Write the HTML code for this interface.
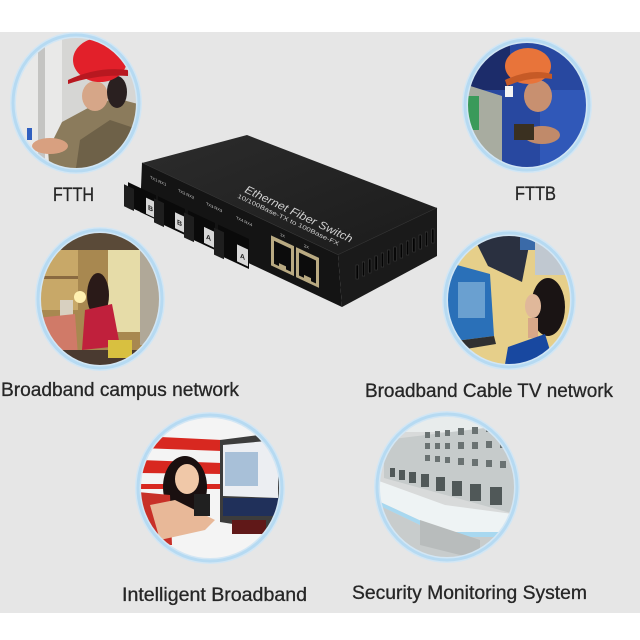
<!DOCTYPE html>
<html><head><meta charset="utf-8"><style>
html,body{margin:0;padding:0;background:#fff;}
svg{display:block;}
</style></head><body>
<svg width="640" height="640" viewBox="0 0 640 640" xmlns="http://www.w3.org/2000/svg">
<defs>
<clipPath id="c1"><ellipse cx="76" cy="103" rx="62" ry="67"/></clipPath>
<clipPath id="c2"><ellipse cx="527" cy="105" rx="61" ry="64"/></clipPath>
<clipPath id="c3"><ellipse cx="100" cy="299" rx="61" ry="68"/></clipPath>
<clipPath id="c4"><ellipse cx="509" cy="300" rx="63" ry="66"/></clipPath>
<clipPath id="c5"><ellipse cx="210" cy="488" rx="71" ry="72"/></clipPath>
<clipPath id="c6"><ellipse cx="447" cy="487" rx="69" ry="72"/></clipPath>
<linearGradient id="topf" x1="0" y1="0" x2="1" y2="1">
<stop offset="0" stop-color="#2c2c2c"/><stop offset="1" stop-color="#1b1b1b"/></linearGradient>
</defs>
<rect width="640" height="640" fill="#fff"/>
<rect x="0" y="32" width="640" height="581" fill="#e6e6e6"/>

<!-- FTTH -->
<g clip-path="url(#c1)">
<rect x="10" y="30" width="140" height="145" fill="#d6d6d4"/>
<rect x="10" y="30" width="52" height="145" fill="#e9e9e8"/>
<rect x="38" y="40" width="7" height="120" fill="#c4c4c2"/>
<rect x="27" y="128" width="5" height="12" fill="#3060c0"/>
<polygon points="48,150 62,122 88,108 115,98 138,104 142,175 50,175" fill="#8b7b5c"/>
<polygon points="80,140 110,120 140,130 142,175 75,175" fill="#6e6148"/>
<ellipse cx="95" cy="96" rx="13" ry="15" fill="#d6a688"/>
<ellipse cx="117" cy="92" rx="10" ry="16" fill="#2a2020"/>
<ellipse cx="100" cy="60" rx="27" ry="22" fill="#e2202a"/>
<path d="M68 80 Q98 66 128 70 L128 76 Q98 74 68 84Z" fill="#b81820"/>
<ellipse cx="50" cy="146" rx="18" ry="8" fill="#d8a080"/>
</g>
<ellipse cx="76" cy="103" rx="63" ry="68" fill="none" stroke="#d2e6f4" stroke-width="6"/>
<ellipse cx="76" cy="103" rx="63" ry="68" fill="none" stroke="#b6daf2" stroke-width="3"/>

<!-- FTTB -->
<g clip-path="url(#c2)">
<rect x="460" y="35" width="135" height="140" fill="#2848a0"/>
<rect x="460" y="35" width="50" height="55" fill="#1c2c6a"/>
<rect x="540" y="90" width="55" height="80" fill="#3058b8"/>
<polygon points="464,84 502,96 502,170 464,170" fill="#a8aca0"/>
<rect x="468" y="96" width="11" height="34" fill="#3a9a5a"/>
<ellipse cx="538" cy="96" rx="14" ry="16" fill="#c89070"/>
<ellipse cx="528" cy="66" rx="23" ry="18" fill="#e8743a"/>
<path d="M505 80 Q530 68 552 74 L552 79 Q530 76 507 86Z" fill="#c65a26"/>
<rect x="505" y="86" width="8" height="11" fill="#f4f4f4"/>
<ellipse cx="542" cy="135" rx="18" ry="9" fill="#c08a6a"/>
<rect x="514" y="124" width="20" height="16" fill="#3a3020"/>
</g>
<ellipse cx="527" cy="105" rx="62" ry="65" fill="none" stroke="#d2e6f4" stroke-width="6"/>
<ellipse cx="527" cy="105" rx="62" ry="65" fill="none" stroke="#b6daf2" stroke-width="3"/>

<!-- Campus -->
<g clip-path="url(#c3)">
<rect x="35" y="228" width="132" height="145" fill="#a88850"/>
<rect x="35" y="228" width="132" height="22" fill="#5a4a38"/>
<rect x="38" y="250" width="40" height="60" fill="#c8a868"/>
<rect x="38" y="276" width="40" height="3" fill="#8a6a40"/>
<rect x="108" y="250" width="32" height="82" fill="#e6dca8"/>
<rect x="140" y="250" width="25" height="95" fill="#b0a898"/>
<rect x="60" y="300" width="13" height="18" fill="#d8d0c0"/>
<circle cx="80" cy="297" r="6" fill="#fff0b0"/>
<ellipse cx="98" cy="295" rx="11" ry="22" fill="#2a1a18"/>
<polygon points="85,310 112,304 120,346 82,350" fill="#c0203c"/>
<polygon points="36,318 75,314 78,356 42,368" fill="#d07a68"/>
<rect x="35" y="350" width="132" height="22" fill="#4a3a30"/>
<rect x="108" y="340" width="24" height="18" fill="#d8c040"/>
</g>
<ellipse cx="100" cy="299" rx="62" ry="69" fill="none" stroke="#d2e6f4" stroke-width="6"/>
<ellipse cx="100" cy="299" rx="62" ry="69" fill="none" stroke="#b6daf2" stroke-width="3"/>

<!-- Cable TV -->
<g clip-path="url(#c4)">
<rect x="440" y="230" width="140" height="145" fill="#e6cf8a"/>
<polygon points="470,230 532,230 522,282 488,266" fill="#2a3040"/>
<rect x="520" y="230" width="55" height="20" fill="#3a6aa8"/>
<rect x="535" y="240" width="40" height="35" fill="#c0c8d0"/>
<polygon points="446,262 490,274 494,336 448,342" fill="#2a70b8"/>
<rect x="458" y="282" width="27" height="36" fill="#6aa0d0"/>
<polygon points="448,342 494,336 496,344 448,352" fill="#303030"/>
<ellipse cx="548" cy="307" rx="17" ry="29" fill="#1a1414"/>
<ellipse cx="533" cy="306" rx="8" ry="12" fill="#e0b89a"/>
<rect x="528" y="318" width="10" height="20" fill="#d8a888"/>
<polygon points="508,347 545,334 556,370 504,370" fill="#1848a0"/>
</g>
<ellipse cx="509" cy="300" rx="64" ry="67" fill="none" stroke="#d2e6f4" stroke-width="6"/>
<ellipse cx="509" cy="300" rx="64" ry="67" fill="none" stroke="#b6daf2" stroke-width="3"/>

<!-- Intelligent -->
<g clip-path="url(#c5)">
<rect x="135" y="412" width="150" height="155" fill="#f4f4f4"/>
<polygon points="140,436 222,440 222,451 140,448" fill="#d82820"/>
<polygon points="140,460 222,463 222,474 140,473" fill="#d82820"/>
<rect x="140" y="484" width="82" height="5" fill="#d82820"/>
<polygon points="220,440 282,432 284,532 220,522" fill="#3c3c3c"/>
<polygon points="223,445 278,440 278,498 223,496" fill="#eceef2"/>
<rect x="225" y="452" width="33" height="34" fill="#a8c0d8"/>
<rect x="223" y="498" width="56" height="18" fill="#20305a"/>
<rect x="232" y="520" width="34" height="14" fill="#601818"/>
<ellipse cx="185" cy="487" rx="22" ry="31" fill="#1a1010"/>
<ellipse cx="187" cy="479" rx="12" ry="15" fill="#f0c8a8"/>
<polygon points="138,492 170,495 172,545 138,545" fill="#c83028"/>
<polygon points="150,505 175,500 215,520 205,530 160,540" fill="#e8b898"/>
<rect x="194" y="494" width="16" height="22" fill="#202020"/>
</g>
<ellipse cx="210" cy="488" rx="72" ry="73" fill="none" stroke="#d2e6f4" stroke-width="6"/>
<ellipse cx="210" cy="488" rx="72" ry="73" fill="none" stroke="#b6daf2" stroke-width="3"/>

<!-- Security -->
<g clip-path="url(#c6)">
<rect x="372" y="410" width="150" height="155" fill="#d8dada"/>
<rect x="372" y="410" width="150" height="22" fill="#e8ecec"/>
<polygon points="384,440 518,424 518,515 384,478" fill="#c6cbcb"/>
<g fill="#6a7272">
<rect x="425" y="432" width="5" height="6"/><rect x="435" y="431" width="5" height="6"/><rect x="445" y="430" width="5" height="6"/><rect x="458" y="428" width="6" height="7"/><rect x="472" y="427" width="6" height="7"/><rect x="486" y="425" width="6" height="7"/><rect x="500" y="424" width="6" height="7"/>
<rect x="425" y="443" width="5" height="6"/><rect x="435" y="443" width="5" height="6"/><rect x="445" y="443" width="5" height="6"/><rect x="458" y="442" width="6" height="7"/><rect x="472" y="442" width="6" height="7"/><rect x="486" y="441" width="6" height="7"/><rect x="500" y="441" width="6" height="7"/>
<rect x="425" y="455" width="5" height="6"/><rect x="435" y="456" width="5" height="6"/><rect x="445" y="457" width="5" height="6"/><rect x="458" y="458" width="6" height="7"/><rect x="472" y="459" width="6" height="7"/><rect x="486" y="460" width="6" height="7"/><rect x="500" y="461" width="6" height="7"/>
</g>
<g fill="#505858">
<rect x="390" y="468" width="5" height="9"/><rect x="399" y="470" width="6" height="10"/><rect x="409" y="472" width="7" height="11"/><rect x="421" y="474" width="8" height="13"/><rect x="436" y="477" width="9" height="14"/><rect x="452" y="481" width="10" height="15"/><rect x="470" y="484" width="11" height="17"/><rect x="490" y="487" width="12" height="18"/>
</g>
<polygon points="376,480 445,505 520,515 520,532 445,532 376,500" fill="#eef3f4"/>
<polygon points="376,500 445,532 520,532 520,537 445,537 376,504" fill="#a8d8f0"/>
<polygon points="376,504 445,537 520,537 520,565 376,565" fill="#c8cccc"/>
<polygon points="420,520 480,540 480,560 420,545" fill="#b8bcbc"/>
</g>
<ellipse cx="447" cy="487" rx="70" ry="73" fill="none" stroke="#d2e6f4" stroke-width="6"/>
<ellipse cx="447" cy="487" rx="70" ry="73" fill="none" stroke="#b6daf2" stroke-width="3"/>

<!-- Switch -->
<polygon points="142,163 247,135 437,208 338,255" fill="url(#topf)"/>
<line x1="142" y1="163" x2="338" y2="255" stroke="#3c3c3c" stroke-width="1"/>
<line x1="338" y1="255" x2="437" y2="208" stroke="#383838" stroke-width="1"/>
<polygon points="338,255 437,208 437,256 342,307" fill="#1a1a1a"/>
<polygon points="142,163 338,255 342,307 140,212" fill="#141414"/>
<g fill="#030303" stroke="#3a3a3a" stroke-width="0.6">
<rect x="356" y="265" width="2.4" height="14"/>
<rect x="362.3" y="262" width="2.4" height="14"/>
<rect x="368.6" y="259" width="2.4" height="14"/>
<rect x="374.9" y="256" width="2.4" height="14"/>
<rect x="381.2" y="253" width="2.4" height="14"/>
<rect x="387.5" y="250" width="2.4" height="14"/>
<rect x="393.8" y="247" width="2.4" height="14"/>
<rect x="400.1" y="244" width="2.4" height="14"/>
<rect x="406.4" y="241" width="2.4" height="14"/>
<rect x="412.7" y="238" width="2.4" height="14"/>
<rect x="419" y="235" width="2.4" height="14"/>
<rect x="425.3" y="232" width="2.4" height="14"/>
<rect x="431.6" y="229" width="2.4" height="14"/>
</g>
<!-- front face details in skewed coords -->
<g transform="matrix(1,0.47,0,1,0,0)">
<g fill="#cfcfcf" font-family="Liberation Sans, sans-serif" font-size="4">
<text x="150" y="108">TX1 RX1</text>
<text x="178" y="108">TX2 RX2</text>
<text x="206" y="108">TX3 RX3</text>
<text x="236" y="108">TX4 RX4</text>
<text x="280" y="104">1X</text>
<text x="304" y="104">2X</text>
</g>
<rect x="128" y="122" width="28" height="24" fill="#0a0a0a"/>
<rect x="124" y="126" width="10" height="22" fill="#1e1e1e"/>
<rect x="146" y="129" width="9" height="16" fill="#d8d8d8"/>
<rect x="158" y="122" width="27" height="26" fill="#0a0a0a"/>
<rect x="154" y="126" width="10" height="24" fill="#1e1e1e"/>
<rect x="175" y="130" width="9" height="16" fill="#d8d8d8"/>
<rect x="188" y="122" width="27" height="27" fill="#0a0a0a"/>
<rect x="184" y="126" width="10" height="25" fill="#1e1e1e"/>
<rect x="204" y="131" width="10" height="16" fill="#d8d8d8"/>
<rect x="218" y="122" width="31" height="30" fill="#0a0a0a"/>
<rect x="214" y="127" width="10" height="27" fill="#1e1e1e"/>
<rect x="237" y="133" width="11" height="17" fill="#d8d8d8"/>
<g fill="#222" font-family="Liberation Sans, sans-serif" font-size="7" font-weight="bold">
<text x="148" y="140">B</text><text x="177" y="141">B</text><text x="206" y="142">A</text><text x="240" y="145">A</text>
</g>
<rect x="271" y="108" width="23" height="30" fill="#b9aa82"/>
<rect x="274" y="112" width="17" height="23" fill="#0c0c0c"/>
<rect x="279" y="132" width="7" height="4" fill="#b9aa82"/>
<rect x="296" y="108" width="23" height="30" fill="#b9aa82"/>
<rect x="299" y="112" width="17" height="23" fill="#0c0c0c"/>
<rect x="304" y="132" width="7" height="4" fill="#b9aa82"/>
</g>
<g transform="translate(244,192) rotate(25.5)" fill="#d0d0d0" font-family="Liberation Sans, sans-serif">
<text x="0" y="0" font-size="11" font-style="italic" textLength="118" lengthAdjust="spacingAndGlyphs">Ethernet Fiber Switch</text>
<text x="-4" y="8" font-size="6" textLength="112" lengthAdjust="spacingAndGlyphs">10/100Base-TX to 100Base-FX</text>
</g>

<!-- Labels -->
<g fill="#262626" stroke="#262626" stroke-width="0.3" font-family="Liberation Sans, sans-serif" font-size="19">
<text x="53" y="201" textLength="41" lengthAdjust="spacingAndGlyphs">FTTH</text>
<text x="515" y="200" textLength="41" lengthAdjust="spacingAndGlyphs">FTTB</text>
<text x="1" y="396" textLength="238" lengthAdjust="spacingAndGlyphs">Broadband campus network</text>
<text x="365" y="397" textLength="248" lengthAdjust="spacingAndGlyphs">Broadband Cable TV network</text>
<text x="122" y="601" textLength="185" lengthAdjust="spacingAndGlyphs">Intelligent Broadband</text>
<text x="352" y="599" textLength="235" lengthAdjust="spacingAndGlyphs">Security Monitoring System</text>
</g>
</svg>
</body></html>
